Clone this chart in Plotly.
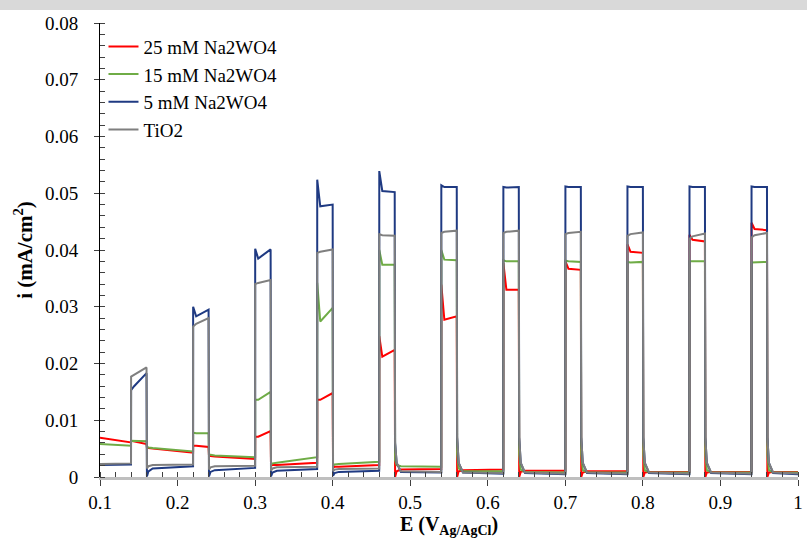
import plotly.graph_objects as go

# Light-on / light-off potentials (V vs Ag/AgCl)
E_ON = [0.14, 0.22, 0.30, 0.38, 0.46, 0.54, 0.62, 0.70, 0.78, 0.86, 0.94]
E_OFF = [0.16, 0.24, 0.32, 0.40, 0.48, 0.56, 0.64, 0.72, 0.80, 0.88, 0.96]
E_START, E_END = 0.10, 1.00

# Axis tick labels
X_TICKS = [0.1, 0.2, 0.3, 0.4, 0.5, 0.6, 0.7, 0.8, 0.9, 1.0]
X_TICK_TEXT = ["0.1", "0.2", "0.3", "0.4", "0.5", "0.6", "0.7", "0.8", "0.9", "1"]
Y_TICKS = [0, 0.01, 0.02, 0.03, 0.04, 0.05, 0.06, 0.07, 0.08]
Y_TICK_TEXT = ["0", "0.01", "0.02", "0.03", "0.04", "0.05", "0.06", "0.07", "0.08"]

# ---- 25 mM Na2WO4 (red) ----
red_dark_start = [0.0069, 0.0050, 0.0036, 0.0021, 0.0018, 0.0013, 0.0012, 0.0011, 0.0010, 0.0009, 0.0009, 0.0009]
red_dark_end   = [0.0061, 0.0043, 0.0032, 0.0025, 0.0021, 0.0014, 0.0013, 0.0011, 0.0010, 0.0009, 0.0009, 0.0009]
red_spike  = [0.0064, 0.0055, 0.0071, 0.0136, 0.0248, 0.0339, 0.0377, 0.0380, 0.0410, 0.0427, 0.0448]
red_settle = [0.0063, 0.0055, 0.0071, 0.0136, 0.0212, 0.0277, 0.0330, 0.0367, 0.0397, 0.0418, 0.0437]
red_end    = [0.0058, 0.0053, 0.0081, 0.0148, 0.0224, 0.0283, 0.0330, 0.0365, 0.0395, 0.0415, 0.0435]
red_tail_a = [0.0052, 0.0038, 0.0020, 0.0016, 0.0000, 0.0000, 0.0000, 0.0000, 0.0000, 0.0000, 0.0000]
red_tail_b = [0.0051, 0.0037, 0.0021, 0.0018, 0.0010, 0.0010, 0.0009, 0.0008, 0.0008, 0.0008, 0.0008]

# ---- 15 mM Na2WO4 (green) ----
grn_dark_start = [0.0058, 0.0051, 0.0038, 0.0025, 0.0023, 0.0019, 0.0010, 0.0009, 0.0008, 0.0008, 0.0008, 0.0008]
grn_dark_end   = [0.0055, 0.0045, 0.0035, 0.0035, 0.0027, 0.0018, 0.0010, 0.0008, 0.0008, 0.0008, 0.0008, 0.0008]
grn_spike  = [0.0064, 0.0078, 0.0136, 0.0342, 0.0400, 0.0400, 0.0382, 0.0381, 0.0379, 0.0380, 0.0378]
grn_settle = [0.0064, 0.0077, 0.0136, 0.0274, 0.0374, 0.0383, 0.0380, 0.0380, 0.0378, 0.0380, 0.0378]
grn_end    = [0.0063, 0.0077, 0.0150, 0.0298, 0.0374, 0.0382, 0.0380, 0.0379, 0.0379, 0.0380, 0.0379]
grn_tail_a = [0.0053, 0.0039, 0.0022, 0.0020, 0.0030, 0.0040, 0.0040, 0.0040, 0.0040, 0.0040, 0.0040]
grn_tail_b = [0.0052, 0.0039, 0.0024, 0.0022, 0.0021, 0.0015, 0.0013, 0.0012, 0.0012, 0.0012, 0.0012]

# ---- 5 mM Na2WO4 (dark blue) ----
blu_dark_start = [0.0021, 0.0015, 0.0012, 0.0011, 0.0009, 0.0009, 0.0008, 0.0007, 0.0007, 0.0007, 0.0007, 0.0007]
blu_dark_end   = [0.0022, 0.0019, 0.0016, 0.0014, 0.0011, 0.0008, 0.0006, 0.0005, 0.0005, 0.0005, 0.0005, 0.0005]
blu_spike  = [0.0153, 0.0300, 0.0402, 0.0524, 0.0539, 0.0514, 0.0511, 0.0512, 0.0512, 0.0512, 0.0512]
blu_settle = [0.0160, 0.0283, 0.0385, 0.0477, 0.0504, 0.0511, 0.0510, 0.0511, 0.0511, 0.0511, 0.0511]
blu_end    = [0.0183, 0.0295, 0.0401, 0.0480, 0.0502, 0.0511, 0.0511, 0.0511, 0.0511, 0.0511, 0.0511]
blu_tail_a = [0.0001, 0.0001, 0.0001, 0.0002, 0.0060, 0.0070, 0.0070, 0.0070, 0.0070, 0.0070, 0.0070]
blu_tail_b = [0.0010, 0.0009, 0.0008, 0.0007, 0.0025, 0.0025, 0.0025, 0.0025, 0.0025, 0.0025, 0.0025]

# ---- TiO2 (gray) ----
gry_dark_start = [0.0023, 0.0021, 0.0019, 0.0017, 0.0014, 0.0010, 0.0008, 0.0008, 0.0008, 0.0008, 0.0008, 0.0008]
gry_dark_end   = [0.0024, 0.0022, 0.0020, 0.0018, 0.0015, 0.0009, 0.0007, 0.0006, 0.0006, 0.0006, 0.0006, 0.0006]
gry_spike  = [0.0177, 0.0265, 0.0340, 0.0395, 0.0428, 0.0430, 0.0430, 0.0428, 0.0425, 0.0420, 0.0422]
gry_settle = [0.0180, 0.0270, 0.0342, 0.0397, 0.0426, 0.0432, 0.0432, 0.0430, 0.0428, 0.0424, 0.0426]
gry_end    = [0.0193, 0.0280, 0.0347, 0.0401, 0.0425, 0.0434, 0.0434, 0.0432, 0.0431, 0.0429, 0.0430]
gry_tail_a = [0.0015, 0.0013, 0.0011, 0.0010, 0.0060, 0.0070, 0.0070, 0.0070, 0.0070, 0.0070, 0.0070]
gry_tail_b = [0.0019, 0.0017, 0.0015, 0.0013, 0.0025, 0.0025, 0.0025, 0.0025, 0.0025, 0.0025, 0.0025]

SERIES = [
    ("25 mM Na2WO4", "#FF0000", red_dark_start, red_dark_end, red_spike, red_settle, red_end, red_tail_a, red_tail_b),
    ("15 mM Na2WO4", "#6FAC46", grn_dark_start, grn_dark_end, grn_spike, grn_settle, grn_end, grn_tail_a, grn_tail_b),
    ("5 mM Na2WO4", "#1F3A82", blu_dark_start, blu_dark_end, blu_spike, blu_settle, blu_end, blu_tail_a, blu_tail_b),
    ("TiO2", "#7F7F7F", gry_dark_start, gry_dark_end, gry_spike, gry_settle, gry_end, gry_tail_a, gry_tail_b),
]


def build(ds, de, sp, st, en, ta, tb):
    xs = [E_START]
    ys = [ds[0]]
    for k in range(len(E_ON)):
        on, off = E_ON[k], E_OFF[k]
        nxt = E_ON[k + 1] if k + 1 < len(E_ON) else E_END
        xs += [on, on + 0.0001, on + 0.004, off, off + 0.0005, off + 0.0025, off + 0.008, nxt]
        ys += [de[k], sp[k], st[k], en[k], ta[k], tb[k], ds[k + 1], de[k + 1]]
    return xs, ys


fig = go.Figure()
for i, (name, color, ds, de, sp, st, en, ta, tb) in enumerate(SERIES):
    xs, ys = build(ds, de, sp, st, en, ta, tb)
    fig.add_trace(go.Scatter(x=xs, y=ys, mode="lines", name=name,
                             legendgroup="g%d" % i,
                             line=dict(color=color, width=2)))

FONT = "Liberation Serif"

fig.update_layout(
    width=807, height=543,
    margin=dict(l=100, r=4, t=23, b=66),
    paper_bgcolor="white", plot_bgcolor="white",
    font=dict(family=FONT, size=19, color="black"),
    showlegend=True,
    legend=dict(x=0.005, y=0.99, xanchor="left", yanchor="top",
                bgcolor="rgba(0,0,0,0)", font=dict(family=FONT, size=19, color="black"),
                tracegroupgap=0, itemwidth=30),
    xaxis=dict(range=[0.1, 1.0], tickmode="array", tickvals=X_TICKS, ticktext=X_TICK_TEXT,
               showgrid=False, zeroline=False,
               showline=True, linecolor="#BFBFBF", linewidth=3,
               ticks="outside", ticklen=6, tickcolor="#404040", tickwidth=1,
               minor=dict(ticks="inside", dtick=0.02, tick0=0.1, ticklen=5, tickcolor="#404040"),
               tickfont=dict(family=FONT, size=19, color="black"),
               ticklabeloverflow="allow",
               title=dict(text="<b>E (V<sub>Ag/AgCl</sub>)</b>",
                          font=dict(family=FONT, size=20, color="black"),
                          standoff=3)),
    yaxis=dict(range=[0, 0.08], tickmode="array", tickvals=Y_TICKS, ticktext=Y_TICK_TEXT,
               showgrid=False, zeroline=False,
               showline=True, linecolor="black", linewidth=1,
               ticks="outside", ticklen=5, tickcolor="#404040",
               minor=dict(ticks="inside", dtick=0.002, tick0=0, ticklen=5, tickcolor="#404040"),
               tickfont=dict(family=FONT, size=19, color="black"), ticklabelstandoff=12,
               title=dict(text="<b>i (mA/cm<sup>2</sup>)</b>",
                          font=dict(family=FONT, size=21, color="black"),
                          standoff=6)),
    shapes=[dict(type="rect", xref="paper", yref="paper",
                 x0=-0.2, x1=1.1, y0=1 + 13 / 454, y1=1.1,
                 fillcolor="#D9D9D9", line=dict(width=0), layer="above")],
)

fig.write_html("out.html")
